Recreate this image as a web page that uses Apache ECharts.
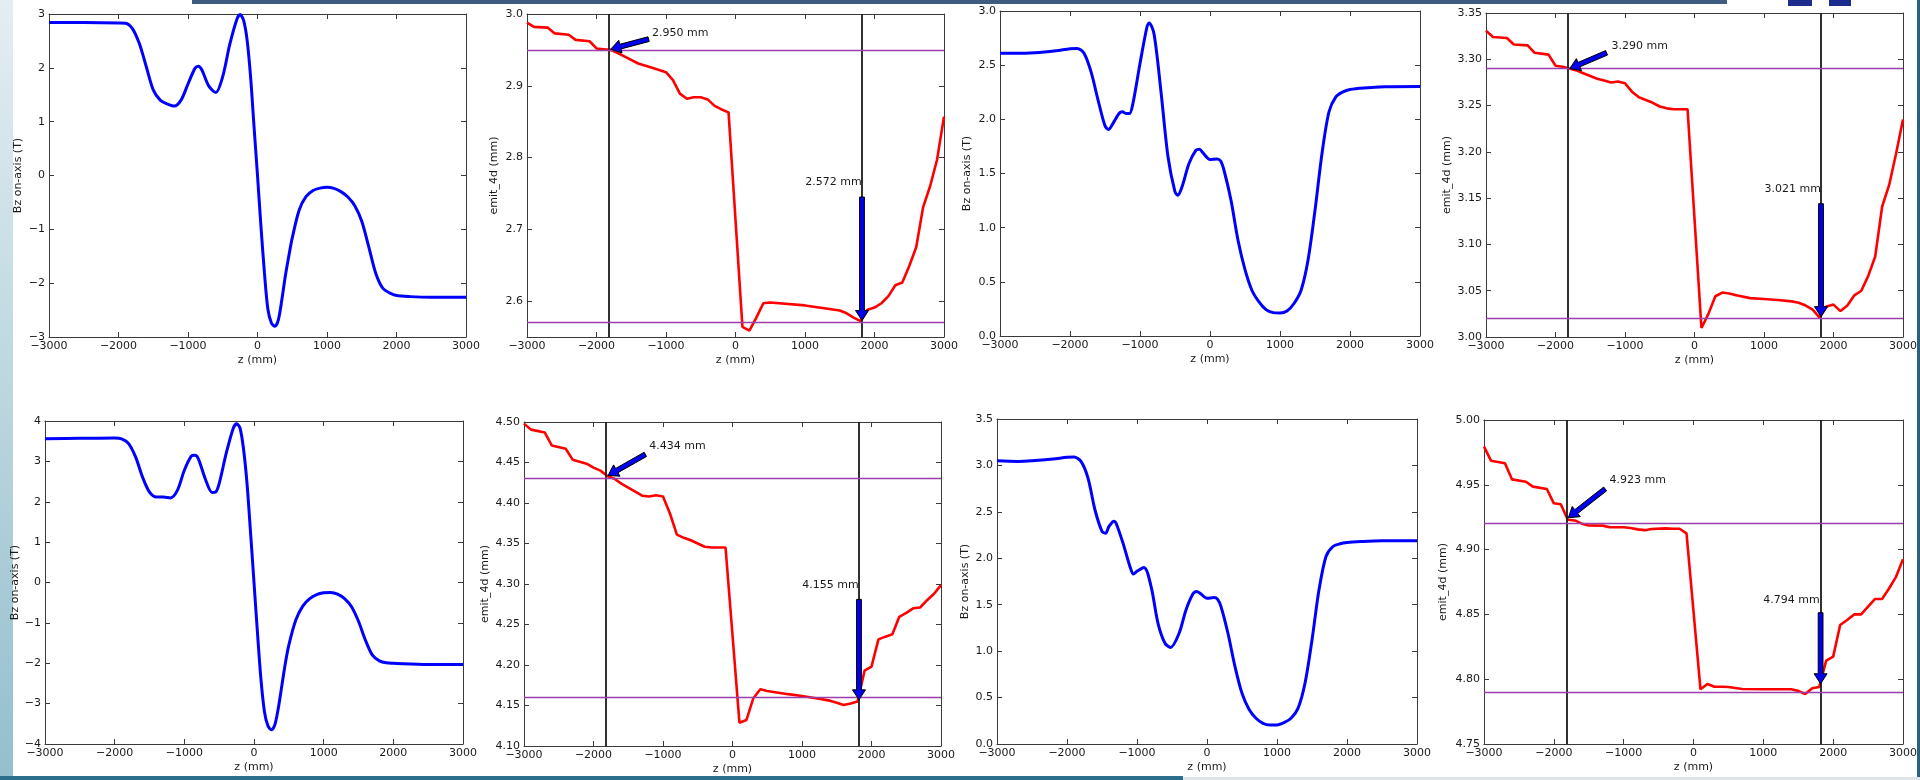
<!DOCTYPE html>
<html><head><meta charset="utf-8">
<script src="https://cdn.jsdelivr.net/npm/echarts@6/dist/echarts.min.js"></script>
<style>html,body{margin:0;padding:0;background:#fff}#c{width:1920px;height:780px}</style>
</head><body><div id="c"></div><script>
// ---------------- DATA ----------------
const zTicks = [-3000, -2000, -1000, 0, 1000, 2000, 3000];
const markZ = [-1820, 1820];

// Panel 1 : Bz on-axis
const bz1Z = [-3000,-2500,-2000,-1900,-1800,-1700,-1600,-1500,-1400,-1300,-1200,-1100,-1000,-900,-850,-800,-700,-600,-500,-400,-300,-250,-200,-150,-100,-50,0,50,100,150,200,250,300,350,400,450,500,600,700,800,900,1000,1100,1200,1300,1400,1500,1600,1700,1800,1900,2000,2200,2500,3000];
const bz1Val = [2.84,2.84,2.835,2.83,2.73,2.45,2.02,1.59,1.40,1.33,1.29,1.40,1.70,1.99,2.03,1.96,1.66,1.54,1.84,2.43,2.89,2.99,2.88,2.52,1.84,0.91,0.0,-0.95,-1.81,-2.49,-2.74,-2.80,-2.68,-2.31,-1.87,-1.50,-1.16,-0.64,-0.39,-0.28,-0.235,-0.22,-0.24,-0.30,-0.40,-0.56,-0.85,-1.32,-1.81,-2.09,-2.18,-2.23,-2.25,-2.26,-2.26];
const bz1Ticks = [-3,-2,-1,0,1,2,3];

// Panel 2 : emit_4d
const em2Z = [-3000,-2900,-2700,-2600,-2400,-2300,-2100,-2000,-1900,-1800,-1700,-1600,-1400,-1200,-1000,-900,-800,-700,-600,-500,-400,-300,-200,-100,100,200,300,400,500,1000,1500,1600,1700,1800,1900,2000,2100,2200,2300,2400,2500,2600,2700,2800,2900,3000];
const em2Val = [2.988,2.982,2.981,2.973,2.971,2.964,2.962,2.952,2.951,2.950,2.946,2.941,2.931,2.925,2.919,2.908,2.889,2.882,2.884,2.884,2.881,2.872,2.867,2.863,2.564,2.559,2.577,2.597,2.598,2.594,2.587,2.583,2.577,2.572,2.588,2.591,2.597,2.607,2.622,2.626,2.649,2.675,2.731,2.760,2.797,2.857];
const em2Ticks = [2.6,2.7,2.8,2.9,3.0];
const em2Levels = [2.950, 2.572];
const em2Arrows = [[-1250,2.965,-1795,2.951,-1200,2.974],[1820,2.745,1820,2.573,1005,2.766]];
const em2Labels = ['2.950 mm','2.572 mm'];

// Panel 3 : Bz on-axis
const bz3Z = [-3000,-2800,-2500,-2200,-2000,-1900,-1800,-1700,-1600,-1500,-1450,-1400,-1300,-1250,-1200,-1150,-1100,-1000,-900,-870,-800,-700,-600,-500,-460,-400,-300,-200,-150,-100,0,100,150,200,300,400,500,600,700,800,900,1000,1100,1200,1300,1400,1500,1600,1700,1800,1900,2000,2200,2500,3000];
const bz3Val = [2.61,2.61,2.615,2.633,2.652,2.655,2.61,2.44,2.18,1.94,1.906,1.946,2.054,2.07,2.054,2.054,2.15,2.516,2.855,2.89,2.79,2.254,1.654,1.33,1.30,1.377,1.592,1.715,1.725,1.69,1.63,1.635,1.617,1.53,1.253,0.884,0.613,0.42,0.314,0.243,0.216,0.212,0.23,0.30,0.42,0.70,1.16,1.685,2.07,2.21,2.254,2.276,2.29,2.30,2.303];
const bz3Ticks = [0,0.5,1.0,1.5,2.0,2.5,3.0];

// Panel 4 : emit_4d
const em4Z = [-3000,-2900,-2700,-2600,-2400,-2300,-2100,-2000,-1900,-1800,-1700,-1600,-1500,-1400,-1300,-1200,-1100,-1000,-900,-800,-700,-600,-500,-400,-300,-200,-100,100,200,300,400,500,600,800,1000,1200,1400,1500,1600,1700,1800,1900,2000,2100,2200,2300,2400,2500,2600,2700,2800,2900,3000];
const em4Val = [3.331,3.324,3.323,3.316,3.315,3.307,3.305,3.293,3.292,3.290,3.288,3.285,3.282,3.279,3.277,3.275,3.276,3.274,3.265,3.259,3.256,3.253,3.249,3.247,3.246,3.246,3.246,3.0097,3.025,3.044,3.048,3.047,3.045,3.042,3.041,3.040,3.0385,3.037,3.034,3.0295,3.021,3.033,3.035,3.028,3.034,3.045,3.050,3.066,3.087,3.141,3.164,3.198,3.235];
const em4Ticks = [3.00,3.05,3.10,3.15,3.20,3.25,3.30,3.35];
const em4Levels = [3.290, 3.021];
const em4Arrows = [[-1265,3.307,-1795,3.290,-1194,3.314],[1820,3.144,1820,3.022,1008,3.1595]];
const em4Labels = ['3.290 mm','3.021 mm'];

// Panel 5 : Bz on-axis
const bz5Z = [-3000,-2500,-2000,-1900,-1800,-1700,-1600,-1500,-1400,-1300,-1200,-1100,-1000,-900,-850,-800,-700,-600,-550,-500,-400,-300,-250,-200,-150,-100,-50,0,50,100,150,200,250,300,350,400,450,500,600,700,800,900,1000,1100,1200,1300,1400,1500,1600,1700,1800,1900,2000,2500,3000];
const bz5Val = [3.56,3.57,3.58,3.555,3.44,3.11,2.61,2.24,2.12,2.12,2.095,2.28,2.78,3.13,3.15,3.07,2.57,2.23,2.24,2.45,3.19,3.81,3.93,3.82,3.30,2.45,1.25,0.0,-1.25,-2.40,-3.20,-3.55,-3.65,-3.52,-3.10,-2.55,-2.00,-1.55,-0.93,-0.585,-0.40,-0.30,-0.256,-0.247,-0.29,-0.40,-0.60,-0.96,-1.43,-1.80,-1.94,-1.99,-2.00,-2.03,-2.03];
const bz5Ticks = [-4,-3,-2,-1,0,1,2,3,4];

// Panel 6 : emit_4d
const em6Z = [-3000,-2900,-2700,-2600,-2400,-2300,-2100,-2000,-1900,-1800,-1700,-1600,-1500,-1400,-1300,-1200,-1100,-1000,-900,-800,-700,-600,-500,-400,-300,-200,-100,100,200,300,400,500,800,1000,1200,1400,1500,1600,1700,1800,1900,2000,2100,2200,2300,2400,2500,2600,2700,2800,2900,3000];
const em6Val = [4.498,4.4906,4.487,4.471,4.467,4.4535,4.4486,4.4437,4.440,4.4334,4.430,4.424,4.419,4.414,4.409,4.408,4.4096,4.408,4.387,4.361,4.357,4.354,4.350,4.346,4.345,4.345,4.345,4.1288,4.132,4.159,4.170,4.168,4.164,4.1617,4.159,4.156,4.1534,4.1506,4.1526,4.155,4.193,4.198,4.2316,4.235,4.238,4.2595,4.2644,4.270,4.271,4.280,4.288,4.2986];
const em6Ticks = [4.10,4.15,4.20,4.25,4.30,4.35,4.40,4.45,4.50];
const em6Levels = [4.434, 4.155];
const em6Arrows = [[-1254,4.460,-1790,4.434,-1197,4.470],[1820,4.281,1820,4.157,1005,4.299]];
const em6Labels = ['4.434 mm','4.155 mm'];

// Panel 7 : Bz on-axis
const bz7Z = [-3000,-2700,-2500,-2200,-2000,-1900,-1800,-1700,-1600,-1500,-1450,-1400,-1330,-1300,-1200,-1100,-1050,-1000,-900,-800,-700,-600,-520,-400,-300,-200,-150,-100,0,100,150,200,300,400,500,600,700,800,900,1000,1100,1200,1300,1400,1500,1600,1700,1800,1900,2000,2200,2500,3000];
const bz7Val = [3.05,3.043,3.05,3.069,3.087,3.09,3.043,2.864,2.52,2.29,2.27,2.343,2.40,2.38,2.163,1.91,1.83,1.86,1.90,1.70,1.30,1.085,1.04,1.19,1.444,1.617,1.642,1.624,1.57,1.577,1.56,1.48,1.19,0.834,0.546,0.374,0.277,0.223,0.205,0.205,0.23,0.277,0.384,0.654,1.12,1.66,2.02,2.127,2.156,2.17,2.18,2.188,2.188];
const bz7Ticks = [0,0.5,1.0,1.5,2.0,2.5,3.0,3.5];

// Panel 8 : emit_4d
const em8Z = [-3000,-2900,-2700,-2600,-2400,-2300,-2100,-2000,-1900,-1800,-1700,-1600,-1500,-1300,-1200,-1000,-900,-800,-700,-600,-400,-300,-200,-100,100,200,300,400,500,700,1000,1400,1500,1600,1700,1800,1900,2000,2100,2200,2300,2400,2500,2600,2700,2800,2900,3000];
const em8Val = [4.9794,4.9686,4.9666,4.9542,4.9524,4.9486,4.9468,4.9357,4.935,4.923,4.9225,4.920,4.9187,4.9185,4.9172,4.9172,4.9167,4.9156,4.915,4.9159,4.9164,4.9161,4.9161,4.9125,4.7922,4.7963,4.7942,4.7942,4.794,4.7924,4.7922,4.7922,4.791,4.7886,4.793,4.7940,4.8143,4.8174,4.8418,4.8457,4.850,4.850,4.856,4.8619,4.8619,4.870,4.879,4.8925];
const em8Ticks = [4.75,4.80,4.85,4.90,4.95,5.00];
const em8Levels = [4.923, 4.794];
const em8Arrows = [[-1265,4.9468,-1792,4.9246,-1203,4.9537],[1820,4.8513,1820,4.7965,998,4.861]];
const em8Labels = ['4.923 mm','4.794 mm'];

// ---------------- PANELS ----------------
const panels = [
  {kind:'bz', z:bz1Z, v:bz1Val, min:-3, max:3, ticks:bz1Ticks, dec:0},
  {kind:'em', z:em2Z, v:em2Val, min:2.55, max:3.0, ticks:em2Ticks, dec:1, levels:em2Levels, arrows:em2Arrows, labels:em2Labels},
  {kind:'bz', z:bz3Z, v:bz3Val, min:0, max:3.0, ticks:bz3Ticks, dec:1},
  {kind:'em', z:em4Z, v:em4Val, min:3.0, max:3.35, ticks:em4Ticks, dec:2, levels:em4Levels, arrows:em4Arrows, labels:em4Labels},
  {kind:'bz', z:bz5Z, v:bz5Val, min:-4, max:4, ticks:bz5Ticks, dec:0},
  {kind:'em', z:em6Z, v:em6Val, min:4.1, max:4.5, ticks:em6Ticks, dec:2, levels:em6Levels, arrows:em6Arrows, labels:em6Labels},
  {kind:'bz', z:bz7Z, v:bz7Val, min:0, max:3.5, ticks:bz7Ticks, dec:1},
  {kind:'em', z:em8Z, v:em8Val, min:4.75, max:5.0, ticks:em8Ticks, dec:2, levels:em8Levels, arrows:em8Arrows, labels:em8Labels}
];

// ---------------- LAYOUT ----------------
const layout = [
  {left:49,  top:14,  width:417, height:323, yGap:25},
  {left:527, top:14,  width:417, height:323, yGap:27},
  {left:1000,top:11,  width:420, height:325, yGap:27},
  {left:1486,top:13,  width:420, height:324, yGap:33},
  {left:45,  top:421, width:418, height:323, yGap:24},
  {left:524, top:422, width:417, height:324, yGap:33},
  {left:997, top:419, width:420, height:325, yGap:26},
  {left:1484,top:420, width:419, height:324, yGap:35}
];

const FONT = 'DejaVu Sans';
const TXT = '#1a1a1a';
const AX = '#3a3a3a';
const fmt = (v, d) => Number(v).toFixed(d).replace('-', '\u2212');

const grid = [], xAxis = [], yAxis = [], series = [];
panels.forEach((p, i) => {
  const L = layout[i];
  grid.push({left:L.left, top:L.top, width:L.width, height:L.height, containLabel:false, show:false});
  const xBase = {gridIndex:i, type:'value', min:-3000, max:3000, interval:1000,
    axisLine:{show:true, onZero:false, lineStyle:{color:AX, width:1}},
    axisTick:{show:true, inside:true, length:5, lineStyle:{color:AX, width:1}},
    splitLine:{show:false}};
  xAxis.push(Object.assign({}, xBase, {position:'bottom',
    axisLabel:{show:true, margin:4, fontSize:11, fontFamily:FONT, color:TXT, formatter:v => fmt(v,0)},
    name:'z (mm)', nameLocation:'middle', nameGap:18, nameTextStyle:{fontSize:11, fontFamily:FONT, color:TXT}}));
  xAxis.push(Object.assign({}, xBase, {position:'top', axisLabel:{show:false}}));
  const yBase = {gridIndex:i, type:'value', min:p.min, max:p.max,
    axisLine:{show:true, onZero:false, lineStyle:{color:AX, width:1}},
    axisTick:{show:true, inside:true, length:5, customValues:p.ticks, lineStyle:{color:AX, width:1}},
    splitLine:{show:false}};
  yAxis.push(Object.assign({}, yBase, {position:'left',
    axisLabel:{show:true, margin:4, fontSize:11, fontFamily:FONT, color:TXT, customValues:p.ticks, formatter:v => fmt(v,p.dec)},
    name: p.kind === 'bz' ? 'Bz on-axis (T)' : 'emit_4d (mm)', nameLocation:'middle', nameRotate:90, nameGap:L.yGap,
    nameTextStyle:{fontSize:11, fontFamily:FONT, color:TXT}}));
  yAxis.push(Object.assign({}, yBase, {position:'right', axisLabel:{show:false}}));

  const data = p.z.map((z, k) => [z, p.v[k]]);
  const s = {type:'line', xAxisIndex:2*i, yAxisIndex:2*i, data, showSymbol:false, symbol:'none',
    smooth: p.kind === 'bz' ? 0.3 : false,
    lineStyle:{color: p.kind === 'bz' ? '#0000ff' : '#ff0000', width: p.kind === 'bz' ? 3 : 2.6},
    z:3, silent:true};
  if (p.kind === 'em') {
    s.markLine = {silent:true, symbol:['none','none'], label:{show:false}, animation:false,
      data: markZ.map(z => ({xAxis:z, lineStyle:{color:'#1a1a1a', width:1.8, type:'solid'}}))
        .concat(p.levels.map(y => ({yAxis:y, lineStyle:{color:'#9c3fae', width:1.3, type:'solid'}})))};
    series.push(s);
    const labels = p.labels;
    series.push({type:'custom', xAxisIndex:2*i, yAxisIndex:2*i, data:p.arrows, silent:true, z:5, clip:false,
      renderItem: (params, api) => {
        const t = api.coord([api.value(0), api.value(1)]);
        const h = api.coord([api.value(2), api.value(3)]);
        const dx = h[0]-t[0], dy = h[1]-t[1];
        const len = Math.hypot(dx, dy) || 1;
        const ux = dx/len, uy = dy/len, nx = -uy, ny = ux;
        const w = 2.4, hw = 6.5, hl = 10;
        const bx = h[0]-ux*hl, by = h[1]-uy*hl;
        const pts = [
          [t[0]+nx*w, t[1]+ny*w], [bx+nx*w, by+ny*w], [bx+nx*hw, by+ny*hw], [h[0], h[1]],
          [bx-nx*hw, by-ny*hw], [bx-nx*w, by-ny*w], [t[0]-nx*w, t[1]-ny*w]];
        const tp = api.coord([api.value(4), api.value(5)]);
        return {type:'group', children:[
          {type:'polygon', shape:{points:pts}, style:{fill:'#0000ee', stroke:'#000', lineWidth:1}},
          {type:'text', x:tp[0], y:tp[1], style:{text:labels[params.dataIndex], fill:TXT,
            font:'11px "DejaVu Sans"', align:'left', verticalAlign:'middle'}}
        ]};
      }});
  } else {
    series.push(s);
  }
});

// slide decorations
const graphic = [
  {type:'rect', shape:{x:0, y:0, width:13, height:780}, style:{fill:new echarts.graphic.LinearGradient(0,0,0,1,[{offset:0,color:'#e4eef2'},{offset:1,color:'#93bfcd'}])}, silent:true, z:-1},
  {type:'rect', shape:{x:192, y:0, width:1535, height:4}, style:{fill:'#3e5b80'}, silent:true},
  {type:'rect', shape:{x:1788, y:0, width:24, height:6}, style:{fill:'#1c2c8c'}, silent:true},
  {type:'rect', shape:{x:1829, y:0, width:22, height:6}, style:{fill:'#1c2c8c'}, silent:true},
  {type:'rect', shape:{x:1917, y:0, width:3, height:780}, style:{fill:'#2b5f80'}, silent:true},
  {type:'rect', shape:{x:0, y:776, width:1183, height:4}, style:{fill:'#2b6f8c'}, silent:true},
  {type:'rect', shape:{x:1183, y:777, width:737, height:3}, style:{fill:'#dfe5e8'}, silent:true}
];

const chart = echarts.init(document.getElementById('c'), null, {renderer:'canvas'});
chart.setOption({animation:false, backgroundColor:'#ffffff', grid, xAxis, yAxis, series, graphic});
</script></body></html>
